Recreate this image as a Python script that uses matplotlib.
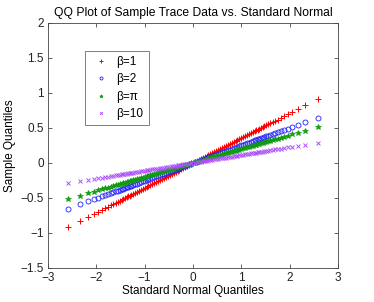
import matplotlib
matplotlib.use("Agg")
import matplotlib.pyplot as plt

# Theoretical standard-normal quantiles (x) and sample quantiles per beta (y)
x_q = [-2.576, -2.326, -2.170, -2.054, -1.960, -1.881, -1.812, -1.751, -1.695, -1.645,
       -1.598, -1.555, -1.514, -1.476, -1.440, -1.405, -1.372, -1.341, -1.311, -1.282,
       -1.24, -1.20, -1.16, -1.12, -1.08, -1.04, -1.00, -0.96, -0.92, -0.88,
       -0.84, -0.80, -0.76, -0.72, -0.68, -0.64, -0.60, -0.56, -0.52, -0.48,
       -0.44, -0.40, -0.36, -0.32, -0.28, -0.24, -0.20, -0.16, -0.12, -0.08, -0.04,
       0.04, 0.08, 0.12, 0.16, 0.20, 0.24, 0.28, 0.32, 0.36, 0.40,
       0.44, 0.48, 0.52, 0.56, 0.60, 0.64, 0.68, 0.72, 0.76, 0.80,
       0.84, 0.88, 0.92, 0.96, 1.00, 1.04, 1.08, 1.12, 1.16, 1.20, 1.24,
       1.282, 1.311, 1.341, 1.372, 1.405, 1.440, 1.476, 1.514, 1.555, 1.598,
       1.645, 1.695, 1.751, 1.812, 1.881, 1.960, 2.054, 2.170, 2.326, 2.576]

y_beta1 = [-0.920, -0.830, -0.775, -0.733, -0.700, -0.671, -0.647, -0.625, -0.605, -0.587,
           -0.570, -0.555, -0.540, -0.527, -0.514, -0.502, -0.490, -0.479, -0.468, -0.458,
           -0.443, -0.428, -0.414, -0.400, -0.386, -0.371, -0.357, -0.343, -0.328, -0.314,
           -0.300, -0.286, -0.271, -0.257, -0.243, -0.228, -0.214, -0.200, -0.186, -0.171,
           -0.157, -0.143, -0.129, -0.114, -0.100, -0.086, -0.071, -0.057, -0.043, -0.029, -0.014,
           0.014, 0.028, 0.042, 0.057, 0.071, 0.085, 0.099, 0.113, 0.127, 0.142,
           0.156, 0.170, 0.184, 0.198, 0.212, 0.227, 0.241, 0.255, 0.269, 0.283,
           0.297, 0.312, 0.326, 0.340, 0.354, 0.368, 0.382, 0.396, 0.411, 0.425, 0.439,
           0.454, 0.464, 0.475, 0.486, 0.497, 0.510, 0.523, 0.536, 0.550, 0.566,
           0.582, 0.600, 0.620, 0.641, 0.666, 0.694, 0.727, 0.768, 0.823, 0.912]

y_beta2 = [-0.654, -0.591, -0.551, -0.522, -0.498, -0.478, -0.460, -0.445, -0.431, -0.418,
           -0.406, -0.395, -0.385, -0.375, -0.366, -0.357, -0.348, -0.341, -0.333, -0.326,
           -0.315, -0.305, -0.295, -0.284, -0.274, -0.264, -0.254, -0.244, -0.234, -0.224,
           -0.213, -0.203, -0.193, -0.183, -0.173, -0.163, -0.152, -0.142, -0.132, -0.122,
           -0.112, -0.102, -0.091, -0.081, -0.071, -0.061, -0.051, -0.041, -0.030, -0.020, -0.010,
           0.010, 0.020, 0.030, 0.040, 0.050, 0.060, 0.070, 0.080, 0.090, 0.100,
           0.110, 0.120, 0.130, 0.140, 0.150, 0.160, 0.170, 0.180, 0.190, 0.200,
           0.210, 0.220, 0.230, 0.240, 0.250, 0.260, 0.270, 0.280, 0.290, 0.300, 0.310,
           0.321, 0.328, 0.335, 0.343, 0.351, 0.360, 0.369, 0.379, 0.389, 0.400,
           0.411, 0.424, 0.438, 0.453, 0.470, 0.490, 0.514, 0.543, 0.582, 0.644]

y_betapi = [-0.518, -0.468, -0.436, -0.413, -0.394, -0.378, -0.364, -0.352, -0.341, -0.331,
            -0.321, -0.313, -0.304, -0.297, -0.289, -0.282, -0.276, -0.270, -0.264, -0.258,
            -0.249, -0.241, -0.233, -0.225, -0.217, -0.209, -0.201, -0.193, -0.185, -0.177,
            -0.169, -0.161, -0.153, -0.145, -0.137, -0.129, -0.121, -0.113, -0.105, -0.096,
            -0.088, -0.080, -0.072, -0.064, -0.056, -0.048, -0.040, -0.032, -0.024, -0.016, -0.008,
            0.008, 0.016, 0.024, 0.032, 0.040, 0.048, 0.055, 0.063, 0.071, 0.079,
            0.087, 0.095, 0.103, 0.111, 0.119, 0.127, 0.135, 0.143, 0.150, 0.158,
            0.166, 0.174, 0.182, 0.190, 0.198, 0.206, 0.214, 0.222, 0.230, 0.238, 0.246,
            0.254, 0.260, 0.266, 0.272, 0.278, 0.285, 0.292, 0.300, 0.308, 0.316,
            0.326, 0.336, 0.347, 0.359, 0.372, 0.388, 0.407, 0.430, 0.461, 0.510]

y_beta10 = [-0.289, -0.261, -0.243, -0.230, -0.220, -0.211, -0.203, -0.196, -0.190, -0.184,
            -0.179, -0.174, -0.170, -0.165, -0.161, -0.157, -0.154, -0.150, -0.147, -0.144,
            -0.139, -0.134, -0.130, -0.125, -0.121, -0.116, -0.112, -0.108, -0.103, -0.099,
            -0.094, -0.090, -0.085, -0.081, -0.076, -0.072, -0.067, -0.063, -0.058, -0.054,
            -0.049, -0.045, -0.040, -0.036, -0.031, -0.027, -0.022, -0.018, -0.013, -0.009, -0.004,
            0.005, 0.009, 0.014, 0.018, 0.023, 0.027, 0.032, 0.036, 0.041, 0.045,
            0.050, 0.054, 0.059, 0.063, 0.068, 0.072, 0.077, 0.081, 0.086, 0.090,
            0.095, 0.099, 0.104, 0.108, 0.113, 0.118, 0.122, 0.127, 0.131, 0.136, 0.140,
            0.145, 0.148, 0.152, 0.155, 0.159, 0.163, 0.167, 0.171, 0.176, 0.181,
            0.186, 0.192, 0.198, 0.205, 0.213, 0.221, 0.232, 0.245, 0.263, 0.291]

labels = ["β=1", "β=2", "β=π", "β=10"]
x_ticks = [-3, -2, -1, 0, 1, 2, 3]
y_ticks = [-1.5, -1, -0.5, 0, 0.5, 1, 1.5, 2]

plt.rcParams['font.family'] = ['Liberation Sans', 'DejaVu Sans']

fig = plt.figure(figsize=(3.74, 3.02), dpi=100)
ax = fig.add_axes([0.128, 0.113, 0.776, 0.811])

series = [
    (y_beta1, dict(marker='+', color='#ff0000', linestyle='none', markersize=4.0, markeredgewidth=0.7)),
    (y_beta2, dict(marker='o', color='#2020ff', markerfacecolor='none', linestyle='none', markersize=3.6, markeredgewidth=0.6)),
    (y_betapi, dict(marker='*', color='#109c10', linestyle='none', markersize=4.3, markeredgewidth=0.5)),
    (y_beta10, dict(marker='x', color='#b050ff', linestyle='none', markersize=3.2, markeredgewidth=0.7)),
]
for (yv, style), lab in zip(series, labels):
    ax.plot(x_q, yv, label=lab, **style)

ax.set_xlim(-3, 3)
ax.set_ylim(-1.5, 2)
ax.set_xticks(x_ticks)
ax.set_yticks(y_ticks)
ax.set_xticklabels(['\u22123', '\u22122', '\u22121', '0', '1', '2', '3'])
ax.set_yticklabels(['\u22121.5', '\u22121', '\u22120.5', '0', '0.5', '1', '1.5', '2'])
ax.tick_params(direction='in', length=3, width=0.5, top=True, right=True,
               labelsize=8.5, colors='#222222', pad=3)
for sp in ax.spines.values():
    sp.set_linewidth(0.6)
    sp.set_color('#444444')

ax.set_title("QQ Plot of Sample Trace Data vs. Standard Normal", fontsize=8.7, pad=5)
ax.set_xlabel("Standard Normal Quantiles", fontsize=8.5, labelpad=1)
ax.set_ylabel("Sample Quantiles", fontsize=8.5, labelpad=3)

leg = ax.legend(loc='upper left', bbox_to_anchor=(0.1276, 0.886), fontsize=8.5,
                frameon=True, fancybox=False, handlelength=1.8, handletextpad=0.4,
                borderpad=0.45, labelspacing=0.45, markerscale=0.6, borderaxespad=0)
leg.get_frame().set_edgecolor('#444444')
leg.get_frame().set_linewidth(0.6)

fig.savefig("out.png", dpi=100)
